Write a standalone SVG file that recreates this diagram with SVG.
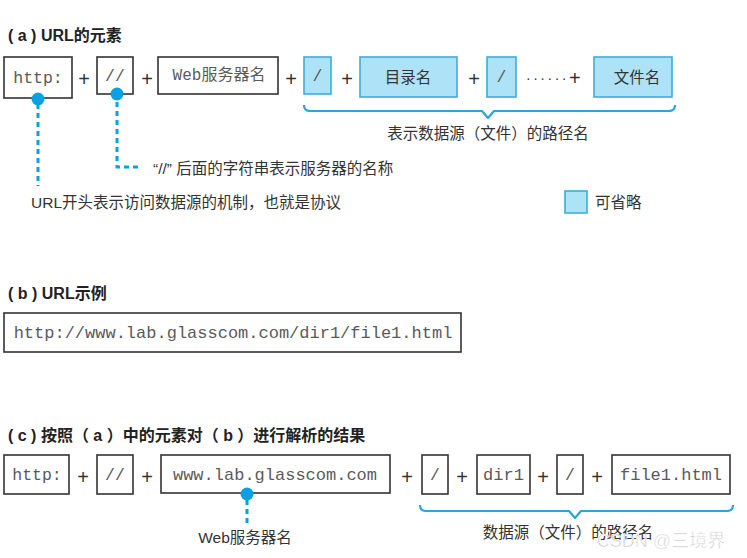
<svg xmlns="http://www.w3.org/2000/svg" width="747" height="558" viewBox="0 0 747 558">
<style>
.t{font-family:"Liberation Sans","Noto Sans CJK SC",sans-serif;fill:#333;dominant-baseline:central}
.h{font-size:16px;font-weight:bold;fill:#222}
.l{font-size:15.5px}
.m{font-family:"Liberation Mono","Noto Sans CJK SC",monospace;fill:#5a5a5a;font-size:16.5px;dominant-baseline:central;text-anchor:middle}
.mc{font-family:"Liberation Mono","Noto Sans CJK SC",monospace;fill:#5a5a5a;font-size:16px;dominant-baseline:central;text-anchor:middle}
.b{fill:#fff;stroke:#333;stroke-width:1.6}
.o{fill:#aee3f7;stroke:#3aaedb;stroke-width:1.6}
.p{font-family:"Liberation Sans",sans-serif;font-size:20px;fill:#333;dominant-baseline:central;text-anchor:middle}
.dot{fill:#0aa0e2}
.dash{fill:none;stroke:#0aa0e2;stroke-width:3;stroke-dasharray:5 4}
.brace{fill:none;stroke:#2aa6d8;stroke-width:2.2;stroke-linejoin:round}
</style>

<!-- (a) -->
<text class="t h" x="8" y="35">( a ) URL的元素</text>
<g id="a-http"><rect class="b" x="4" y="57" width="68" height="41"/><text class="m" x="38" y="78">http:</text></g>
<g id="a-slashes"><rect class="b" x="97" y="57" width="36" height="37"/><text class="m" x="115" y="76">//</text></g>
<g id="a-server"><rect class="b" x="158" y="57" width="120" height="37"/><text class="mc" x="219" y="76">Web服务器名</text></g>
<g id="a-slash1"><rect class="o" x="304" y="57" width="27" height="37"/><text class="m" x="317.5" y="76">/</text></g>
<g id="a-dir"><rect class="o" x="360" y="57" width="97" height="40"/><text class="t l" x="408" y="77" text-anchor="middle">目录名</text></g>
<g id="a-slash2"><rect class="o" x="487" y="57" width="29" height="40"/><text class="m" x="501.5" y="77">/</text></g>
<g id="a-file"><rect class="o" x="594" y="57" width="78" height="40"/><text class="t l" x="637" y="77" text-anchor="middle">文件名</text></g>
<g id="a-plus">
<text class="p" x="84" y="79">+</text>
<text class="p" x="147" y="79">+</text>
<text class="p" x="291" y="79">+</text>
<text class="p" x="347" y="79">+</text>
<text class="p" x="474" y="79">+</text>
<text class="t" x="526" y="78"><tspan style="font-size:14px;letter-spacing:2.5px">······</tspan><tspan style="font-size:20px">+</tspan></text>
</g>
<g id="connectors-a">
<path class="dash" d="M38 104 V186"/>
<path class="dash" d="M117 102 V167 H140"/>
<circle class="dot" cx="38" cy="99" r="6.5"/>
<circle class="dot" cx="117" cy="94" r="6.5"/>
<path class="brace" d="M304 105 Q304 111 310 111 H482 L488 118 L494 111 H669 Q675 111 675 105"/>
</g>
<text class="t l" x="488" y="133" text-anchor="middle">表示数据源（文件）的路径名</text>
<text class="t l" x="153" y="168">“//” 后面的字符串表示服务器的名称</text>
<text class="t l" x="31" y="202">URL开头表示访问数据源的机制，也就是协议</text>
<g id="legend"><rect class="o" x="565" y="191" width="22" height="22"/><text class="t l" x="595" y="202">可省略</text></g>

<!-- (b) -->
<text class="t h" x="8" y="293">( b ) URL示例</text>
<g id="b-url"><rect class="b" x="4" y="313" width="457" height="39"/><text class="m" x="233" y="333" style="font-size:17px">http://www.lab.glasscom.com/dir1/file1.html</text></g>

<!-- (c) -->
<text class="t h" x="8" y="435">( c ) 按照（ a ）中的元素对（ b ）进行解析的结果</text>
<g id="c-http"><rect class="b" x="4" y="455" width="65" height="39"/><text class="m" x="37" y="475">http:</text></g>
<g id="c-slashes"><rect class="b" x="97" y="455" width="36" height="39"/><text class="m" x="115" y="475">//</text></g>
<g id="c-host"><rect class="b" x="161" y="455" width="229" height="38"/><text class="m" x="275" y="475" style="font-size:17px">www.lab.glasscom.com</text></g>
<g id="c-slash1"><rect class="b" x="422" y="455" width="26" height="39"/><text class="m" x="435" y="475">/</text></g>
<g id="c-dir"><rect class="b" x="477" y="455" width="53" height="39"/><text class="m" x="503.5" y="475" style="font-size:17px">dir1</text></g>
<g id="c-slash2"><rect class="b" x="557" y="455" width="26" height="39"/><text class="m" x="570" y="475">/</text></g>
<g id="c-file"><rect class="b" x="612" y="455" width="118" height="39"/><text class="m" x="671" y="475" style="font-size:17px">file1.html</text></g>
<g id="c-plus">
<text class="p" x="83" y="477">+</text>
<text class="p" x="147" y="477">+</text>
<text class="p" x="407" y="477">+</text>
<text class="p" x="462" y="477">+</text>
<text class="p" x="543" y="477">+</text>
<text class="p" x="597" y="477">+</text>
</g>
<g id="connectors-c">
<path class="dash" d="M247 500 V523"/>
<circle class="dot" cx="247" cy="494" r="6.5"/>
<path class="brace" d="M420 505 Q420 511 426 511 H569 L575 518 L581 511 H727 Q733 511 733 505"/>
</g>
<text class="t l" x="245" y="537" text-anchor="middle">Web服务器名</text>
<text class="t l" x="568" y="532" text-anchor="middle">数据源（文件）的路径名</text>
<text class="t" x="661" y="541" text-anchor="middle" style="font-size:18px;fill:#c8c8c8;stroke:#fff;stroke-width:0.6">CSDN @三境界</text>
</svg>
